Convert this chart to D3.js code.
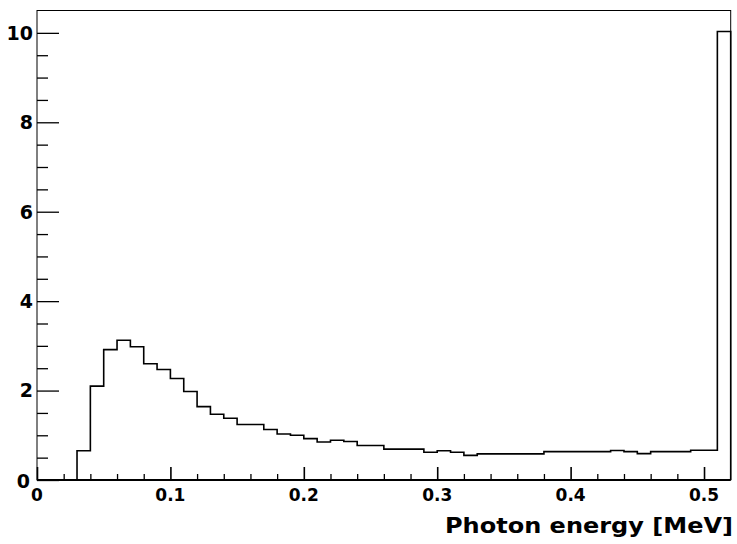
<!DOCTYPE html>
<html>
<head>
<meta charset="utf-8">
<script src="https://cdn.jsdelivr.net/npm/d3@7"></script>
<style>
  body { margin: 0; background: #fff; }
  svg { display: block; }
  .lbl { font-family: "DejaVu Sans", sans-serif; font-weight: bold; fill: #000; }
</style>
</head>
<body>
<svg id="chart"></svg>
<script>
var viewWidth = 737;
var viewHeight = 544;

// histogram: 52 bins of 0.01 MeV from 0 to 0.52
var binWidth = 0.01;
var counts = [
  0, 0, 0, 0.655, 2.10, 2.915, 3.125, 2.98, 2.60, 2.47,
  2.27, 1.98, 1.64, 1.47, 1.38, 1.24, 1.24, 1.13, 1.03, 1.00,
  0.925, 0.85, 0.89, 0.86, 0.77, 0.77, 0.69, 0.69, 0.69, 0.62,
  0.655, 0.62, 0.55, 0.585, 0.585, 0.585, 0.585, 0.585, 0.635, 0.635,
  0.635, 0.635, 0.635, 0.66, 0.635, 0.59, 0.635, 0.635, 0.635, 0.665,
  0.665, 10.03
];
var xMajor = [0, 0.1, 0.2, 0.3, 0.4, 0.5];
var xMajorLabels = ["0", "0.1", "0.2", "0.3", "0.4", "0.5"];
var yMajor = [0, 2, 4, 6, 8, 10];
var xTitle = "Photon energy [MeV]";

var margin = { top: 10.5, right: 6.3, bottom: 64, left: 37 };
var width = viewWidth - margin.left - margin.right;
var height = viewHeight - margin.top - margin.bottom;

var svg = d3.select("#chart")
    .attr("width", viewWidth)
    .attr("height", viewHeight);

var chart = svg.append("g")
    .attr("transform", "translate(" + margin.left + "," + margin.top + ")");

var x = d3.scaleLinear().domain([0, 0.52]).range([0, width]);
var y = d3.scaleLinear().domain([0, 10.5]).range([height, 0]);

// frame
chart.append("rect")
    .attr("x", 0).attr("y", 0)
    .attr("width", width).attr("height", height)
    .attr("fill", "none")
    .attr("stroke", "#000")
    .attr("stroke-width", 1);

// histogram outline
var pts = [[x(0), y(0)]];
counts.forEach(function (c, i) {
    pts.push([x(i * binWidth), y(c)]);
    pts.push([x((i + 1) * binWidth), y(c)]);
});
pts.push([x(counts.length * binWidth), y(0)]);

chart.append("path")
    .attr("d", d3.line()(pts))
    .attr("fill", "none")
    .attr("stroke", "#000")
    .attr("stroke-width", 1.6);

// bottom axis line, a bit heavier
chart.append("line")
    .attr("x1", 0).attr("x2", width)
    .attr("y1", height).attr("y2", height)
    .attr("stroke", "#000").attr("stroke-width", 2);

// x ticks (major 0.1, minor 0.02), drawn inward
var xMinor = d3.range(0, 26).map(function (k) { return k * 0.02; })
    .filter(function (v) { return Math.abs(v * 10 - Math.round(v * 10)) > 1e-6; });

var xAxis = d3.axisTop(x).tickValues(xMajor).tickSize(13).tickFormat("");
var xAxisMinor = d3.axisTop(x).tickValues(xMinor).tickSize(6).tickFormat("");

chart.append("g").attr("class", "x axis")
    .attr("transform", "translate(0," + height + ")")
    .call(xAxis)
    .call(function (g) { g.select(".domain").remove(); })
    .selectAll("line").attr("stroke-width", 1.6);
chart.append("g").attr("class", "x axis minor")
    .attr("transform", "translate(0," + height + ")")
    .call(xAxisMinor)
    .call(function (g) { g.select(".domain").remove(); })
    .selectAll("line").attr("stroke-width", 1.3);

chart.selectAll(".xlab")
    .data(xMajor)
    .enter().append("text")
    .attr("class", "lbl xlab")
    .attr("x", function (d) { return x(d); })
    .attr("y", height + 21)
    .attr("text-anchor", "middle")
    .style("font-size", "17px")
    .text(function (d, i) { return xMajorLabels[i]; });

// y ticks (major 2, minor 0.5), drawn inward
var yMinor = d3.range(0, 21).map(function (k) { return k * 0.5; })
    .filter(function (v) { return v % 2 !== 0; });

var yAxis = d3.axisRight(y).tickValues(yMajor).tickSize(22).tickFormat("");
var yAxisMinor = d3.axisRight(y).tickValues(yMinor).tickSize(11).tickFormat("");

chart.append("g").attr("class", "y axis")
    .call(yAxis)
    .call(function (g) { g.select(".domain").remove(); })
    .selectAll("line").attr("stroke-width", 1.3);
chart.append("g").attr("class", "y axis minor")
    .call(yAxisMinor)
    .call(function (g) { g.select(".domain").remove(); })
    .selectAll("line").attr("stroke-width", 1.3);

chart.selectAll(".ylab")
    .data(yMajor)
    .enter().append("text")
    .attr("class", "lbl ylab")
    .attr("x", function (d) { return d === 0 ? -7 : -4; })
    .attr("y", function (d) { return y(d) + (d === 0 ? 1 : 0); })
    .attr("dy", "0.36em")
    .attr("text-anchor", "end")
    .style("font-size", "19px")
    .text(function (d) { return d; });

// axis title
svg.append("text")
    .attr("class", "lbl")
    .attr("x", 445)
    .attr("y", 533)
    .attr("textLength", 288)
    .attr("lengthAdjust", "spacingAndGlyphs")
    .style("font-size", "20.5px")
    .text(xTitle);
</script>
</body>
</html>
